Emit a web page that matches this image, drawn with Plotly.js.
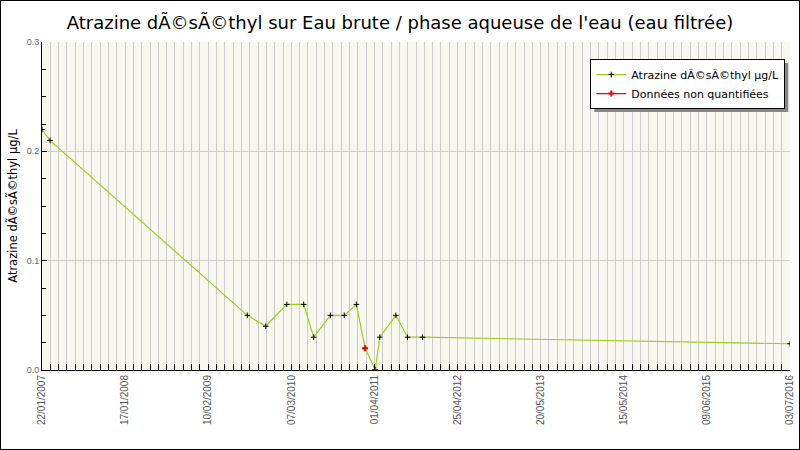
<!DOCTYPE html>
<html>
<head>
<meta charset="utf-8">
<script src="https://cdn.plot.ly/plotly-3.0.1.min.js"></script>
<style>
  body { margin: 0; background: white; }
  #wrap { position: relative; width: 800px; height: 450px; }
  #chart { width: 800px; height: 450px; }
  #frame { position: absolute; left: 0; top: 0; width: 798px; height: 448px; border: 1px solid black; pointer-events: none; }
</style>
</head>
<body>
<div id="wrap">
  <div id="chart"></div>
  <div id="frame"></div>
</div>
<script>
const seriesName = 'Atrazine dÃ©sÃ©thyl µg/L'
const dates = ['2007-01-22', '2007-02-28', '2009-08-26', '2009-11-19', '2010-02-24', '2010-05-13', '2010-06-28',
  '2010-09-13', '2010-11-16', '2011-01-11', '2011-02-20', '2011-04-08', '2011-04-29', '2011-07-12',
  '2011-09-04', '2011-11-12', '2016-07-03']
const values = [0.22, 0.21, 0.05, 0.04, 0.06, 0.06, 0.03, 0.05, 0.05, 0.06, 0.02, 0, 0.03, 0.05, 0.03, 0.03, 0.024]

// points below the quantification limit
const nqDates = ['2011-02-20', '2011-04-08']
const nqValues = [0.02, 0]

const tickLabels = ['22/01/2007', '17/01/2008', '10/02/2009', '07/03/2010', '01/04/2011',
  '25/04/2012', '20/05/2013', '15/05/2014', '09/06/2015', '03/07/2016']

const t0 = Date.parse(dates[0])
const t1 = Date.parse(dates[dates.length - 1])
const step = (t1 - t0) / (tickLabels.length - 1)
const tickVals = tickLabels.map((_, i) => new Date(t0 + i * step).toISOString())

const data = [{
  x: dates,
  y: values,
  name: seriesName,
  type: 'scatter',
  mode: 'lines+markers',
  line: { color: '#a0cc18', width: 1.2 },
  marker: { symbol: 'cross-thin', size: 4, line: { color: 'black', width: 1 } },
}]

// one trace per point so no red segment is drawn between them
nqDates.forEach((d, i) => {
  data.push({
    x: [d],
    y: [nqValues[i]],
    name: 'Données non quantifiées',
    legendgroup: 'nq',
    showlegend: i === 0,
    type: 'scatter',
    mode: 'lines+markers',
    line: { color: 'red', width: 1.2 },
    marker: { symbol: 'cross', size: 5, color: 'red' },
  })
})

const layout = {
  width: 800,
  height: 450,
  margin: { l: 42, r: 10, t: 42, b: 80, autoexpand: false },
  paper_bgcolor: 'white',
  plot_bgcolor: '#f8f8f0',
  font: { family: 'DejaVu Sans', color: 'black' },
  title: {
    text: "Atrazine dÃ©sÃ©thyl sur Eau brute / phase aqueuse de l'eau (eau filtrée)",
    font: { family: 'DejaVu Sans', size: 18, color: 'black' },
    x: 0.5,
    xanchor: 'center',
    y: 0.95,
    yanchor: 'middle',
  },
  showlegend: true,
  legend: {
    x: 0.733,
    y: 0.948,
    xanchor: 'left',
    yanchor: 'top',
    bgcolor: 'white',
    bordercolor: 'black',
    borderwidth: 1,
    font: { family: 'DejaVu Sans', size: 11, color: 'black' },
    tracegroupgap: 0,
    itemwidth: 30,
  },
  xaxis: {
    type: 'date',
    automargin: false,
    range: [dates[0], dates[dates.length - 1]],
    tickmode: 'array',
    tickvals: tickVals,
    ticktext: tickLabels,
    tickangle: -90,
    tickfont: { family: 'Liberation Sans', size: 10, color: '#555555' },
    ticks: 'inside',
    ticklen: 6,
    tickcolor: 'black',
    showline: true,
    linecolor: 'black',
    linewidth: 1,
    showgrid: true,
    gridcolor: '#cccccc',
    gridwidth: 1,
    zeroline: false,
    minor: {
      tick0: dates[0],
      dtick: step / 10,
      ticks: 'inside',
      ticklen: 6,
      tickcolor: 'black',
      showgrid: true,
      gridcolor: '#cccccc',
      gridwidth: 1,
    },
    fixedrange: true,
  },
  yaxis: {
    automargin: false,
    title: { text: seriesName, font: { family: 'DejaVu Sans', size: 11.5, color: 'black' }, standoff: 6 },
    range: [0, 0.3],
    dtick: 0.1,
    tickformat: '.1f',
    tickfont: { family: 'Liberation Sans', size: 9, color: '#666666' },
    ticks: 'inside',
    ticklen: 5,
    tickcolor: 'black',
    showline: true,
    linecolor: 'black',
    linewidth: 1,
    showgrid: true,
    gridcolor: '#cccccc',
    zeroline: false,
    minor: { dtick: 0.025, ticks: 'inside', ticklen: 4, tickcolor: 'black', showgrid: false },
    fixedrange: true,
  },
}

const config = { displayModeBar: false, staticPlot: true }

Plotly.newPlot('chart', data, layout, config).then(gd => {
  // grey drop shadow behind the legend box
  const box = gd.querySelector('.legend .bg').getBBox()
  const tr = gd.querySelector('.legend').getAttribute('transform')
  const m = /translate\(([-\d.]+)[ ,]([-\d.]+)\)/.exec(tr)
  const lx = parseFloat(m[1])
  const ly = parseFloat(m[2])
  const fs = gd._fullLayout._size
  Plotly.relayout(gd, {
    shapes: [{
      type: 'rect',
      xref: 'paper',
      yref: 'paper',
      layer: 'above',
      x0: (lx + 4 - fs.l) / fs.w,
      x1: (lx + box.width + 4 - fs.l) / fs.w,
      y0: 1 - (ly + box.height + 4 - fs.t) / fs.h,
      y1: 1 - (ly + 4 - fs.t) / fs.h,
      fillcolor: '#888888',
      line: { width: 0 },
    }],
  })
})
</script>
</body>
</html>
